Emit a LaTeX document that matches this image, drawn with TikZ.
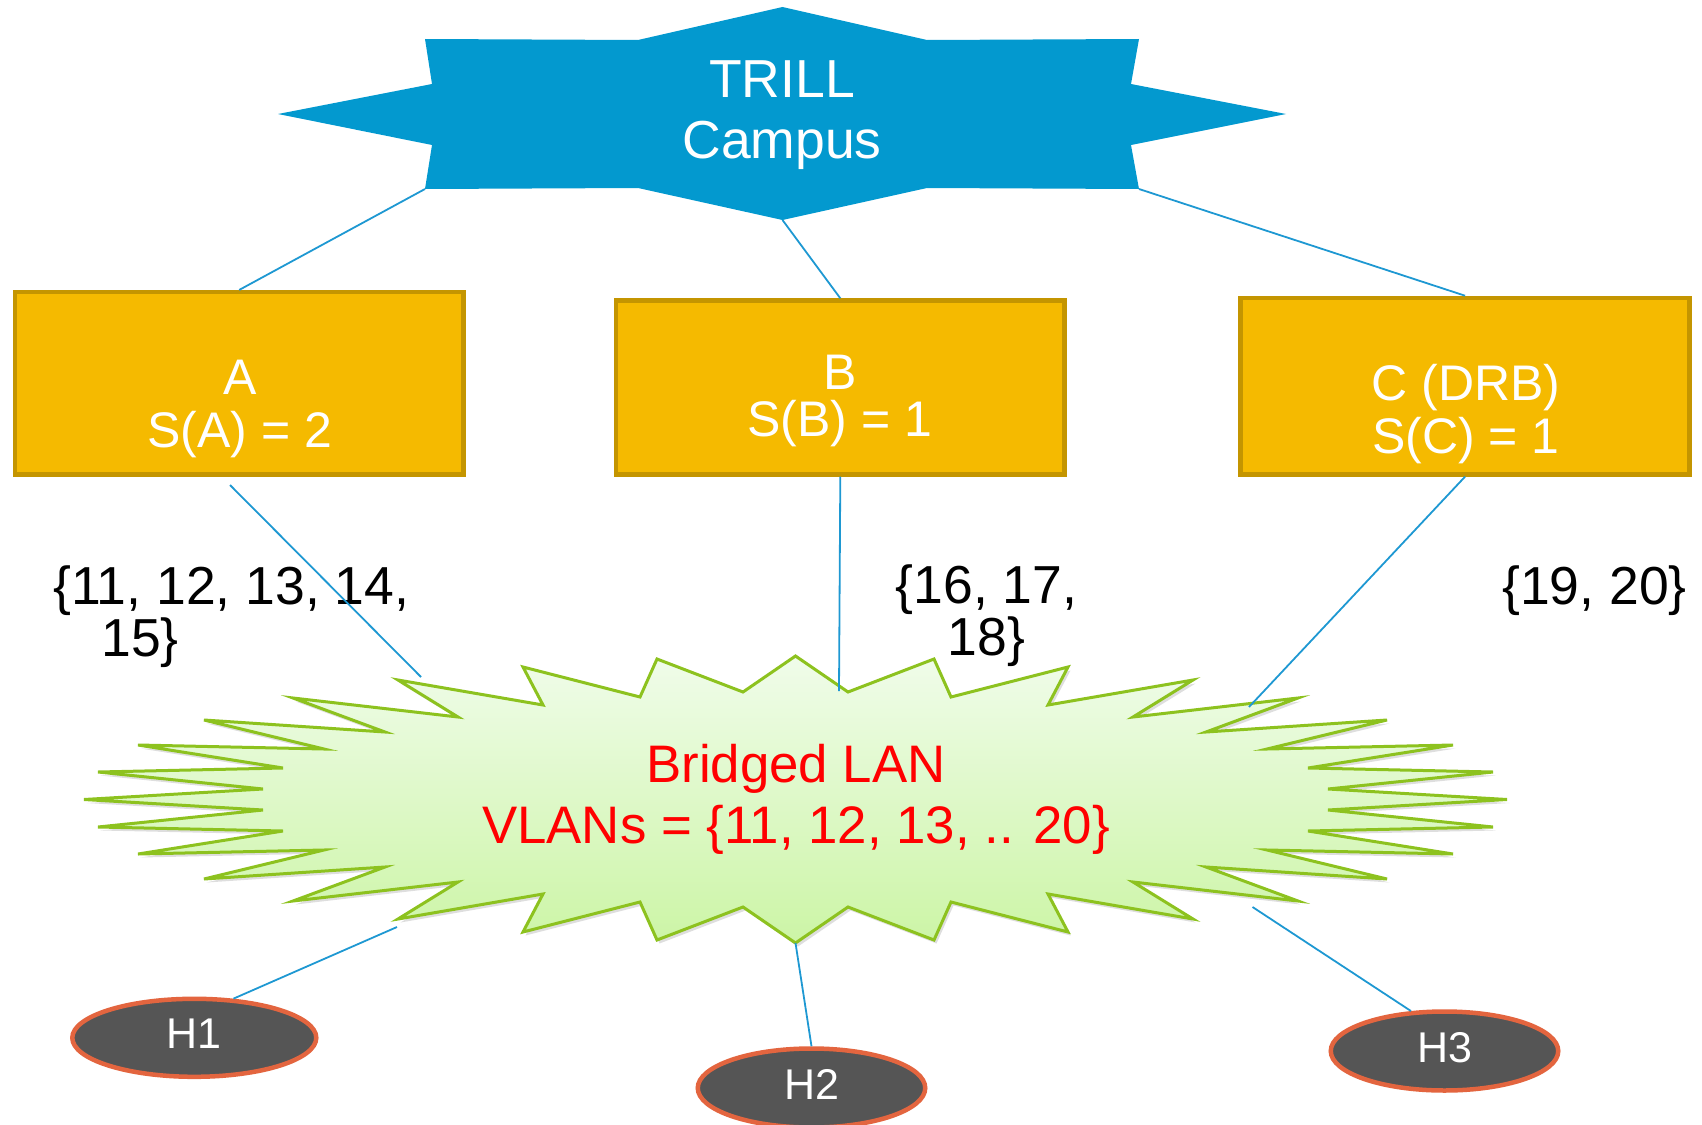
\documentclass[tikz,border=0pt]{standalone}
\usepackage{fontspec}
\setmainfont{Liberation Sans}
\usetikzlibrary{shapes.geometric}
\definecolor{starblue}{HTML}{0399CF}
\definecolor{linkblue}{HTML}{1E98D2}
\definecolor{boxfill}{HTML}{F5BA00}
\definecolor{boxline}{HTML}{C49500}
\definecolor{lanline}{HTML}{8DC21F}
\definecolor{lantop}{HTML}{F0FCEA}
\definecolor{lanbot}{HTML}{CCF5A6}
\definecolor{hostfill}{HTML}{555555}
\definecolor{hostline}{HTML}{E3653F}
\definecolor{lanred}{HTML}{FF0000}
\begin{document}
\begin{tikzpicture}[x=1pt,y=-1pt,
  conn/.style={draw=linkblue, line width=1.8pt},
  boxnode/.style={rectangle, draw=boxline, fill=boxfill, line width=4.5pt, inner sep=0pt},
  boxtext/.style={text=white, align=center, inner sep=0pt, font=\fontsize{50}{53}\selectfont},
  hostnode/.style={ellipse, draw=hostline, fill=hostfill, line width=4.5pt, text=white,
    inner sep=0pt, text depth=8pt, font=\fontsize{43}{50}\selectfont},
  valtext/.style={text=black, inner sep=0pt, font=\fontsize{53.5}{52}\selectfont}]
\useasboundingbox (0,0) rectangle (1702,1124);

% TRILL campus star
\fill[starblue] (782.5,7) -- (927,40) -- (1139,39) -- (1131,84) -- (1286,114)
  -- (1131,145) -- (1139,189) -- (927,188) -- (782.5,220) -- (638,188)
  -- (425,189) -- (432,145) -- (278,114) -- (432,84) -- (425,39) -- (638,40) -- cycle;
\coordinate (star-ll) at (425,189);
\coordinate (star-b) at (782.5,220);
\coordinate (star-lr) at (1139,189);
\node[text=white, align=center, inner sep=0pt, font=\fontsize{53.5}{61}\selectfont]
  (trill) at (782,115.4) {TRILL\\Campus};

% RBridge boxes
\node[boxnode, minimum width=448.5pt, minimum height=182.2pt] (A) at (239.2,383.3) {};
\node[boxnode, minimum width=448.2pt, minimum height=173.9pt] (B) at (840.3,387.5) {};
\node[boxnode, minimum width=448.9pt, minimum height=176.5pt] (C) at (1465,386.2) {};
\node[boxtext] (Atext) at (240,409.3) {A\\S(A) = 2};
\node[boxtext, font=\fontsize{50}{47}\selectfont] (Btext) at (840,401) {B\\S(B) = 1};
\node[boxtext] (Ctext) at (1466,414) {C (DRB)\\S(C) = 1};

% Bridged LAN burst
\begin{scope}[shift={(795.5,799.5)}]
\def\burstpath{(0,-143.5) -- (-52.5,-107.5) -- (-138.5,-140.5) -- (-155.5,-102.5) -- (-272.5,-132.5)
  -- (-252.5,-94.5) -- (-397.5,-119.5) -- (-337.5,-82.5) -- (-502.5,-101.5) -- (-410.5,-67.5)
  -- (-591.5,-79.5) -- (-471.5,-50.5) -- (-657.5,-54.5) -- (-512.5,-31.5) -- (-697.5,-27.5)
  -- (-532.5,-10.5) -- (-711.5,0)
  -- (-532.5,10.5) -- (-697.5,27.5) -- (-512.5,31.5) -- (-657.5,54.5) -- (-471.5,50.5)
  -- (-591.5,79.5) -- (-410.5,67.5) -- (-502.5,101.5) -- (-337.5,82.5) -- (-397.5,119.5)
  -- (-252.5,94.5) -- (-272.5,132.5) -- (-155.5,102.5) -- (-138.5,140.5) -- (-52.5,107.5) -- (0,143.5)
  -- (52.5,107.5) -- (138.5,140.5) -- (155.5,102.5) -- (272.5,132.5) -- (252.5,94.5)
  -- (397.5,119.5) -- (337.5,82.5) -- (502.5,101.5) -- (410.5,67.5) -- (591.5,79.5)
  -- (471.5,50.5) -- (657.5,54.5) -- (512.5,31.5) -- (697.5,27.5) -- (532.5,10.5) -- (711.5,0)
  -- (532.5,-10.5) -- (697.5,-27.5) -- (512.5,-31.5) -- (657.5,-54.5) -- (471.5,-50.5)
  -- (591.5,-79.5) -- (410.5,-67.5) -- (502.5,-101.5) -- (337.5,-82.5) -- (397.5,-119.5)
  -- (252.5,-94.5) -- (272.5,-132.5) -- (155.5,-102.5) -- (138.5,-140.5) -- (52.5,-107.5) -- cycle}
\fill[black, opacity=0.13, shift={(2.5,3.5)}] \burstpath;
\draw[draw=lanline, line width=3pt, line join=miter, top color=lantop, bottom color=lanbot] \burstpath;
\end{scope}
\node[text=lanred, align=center, inner sep=0pt, font=\fontsize{52.8}{61}\selectfont]
  (lan) at (796,799) {Bridged LAN\\VLANs = \{11, 12, 13, .. 20\}};
\coordinate (lan-a) at (421,677);
\coordinate (lan-b) at (839,691);
\coordinate (lan-c) at (1249,707);
\coordinate (lan-h1) at (397,927);
\coordinate (lan-h2) at (795.5,943);
\coordinate (lan-h3) at (1252.5,907);
\coordinate (a-out) at (230,485);

% VLAN labels
\node[valtext, align=left] (vlA) at (231.3,616.5) {\{11, 12, 13, 14,\\\hspace*{48pt}15\}};
\node[valtext, align=center] (vlB) at (986.5,615.5) {\{16, 17,\\18\}};
\node[valtext] (vlC) at (1594.5,590.5) {\{19, 20\}};

% hosts
\node[hostnode, minimum width=244pt, minimum height=78pt] (H1) at (194.3,1037.8) {H1};
\node[hostnode, minimum width=227.5pt, minimum height=79pt] (H2) at (811.5,1088) {H2};
\node[hostnode, minimum width=227.5pt, minimum height=79pt] (H3) at (1444.5,1051) {H3};

% connectors
\draw[conn] (star-ll) -- (A.north);
\draw[conn] (star-b) -- (B.north);
\draw[conn] (star-lr) -- (C.north);
\draw[conn] (a-out) -- (lan-a);
\draw[conn] (B.south) -- (lan-b);
\draw[conn] (C.south) -- (lan-c);
\draw[conn] (lan-h1) -- (H1.45);
\draw[conn] (lan-h2) -- (H2.north);
\draw[conn] (lan-h3) -- (H3.130);
\end{tikzpicture}
\end{document}
